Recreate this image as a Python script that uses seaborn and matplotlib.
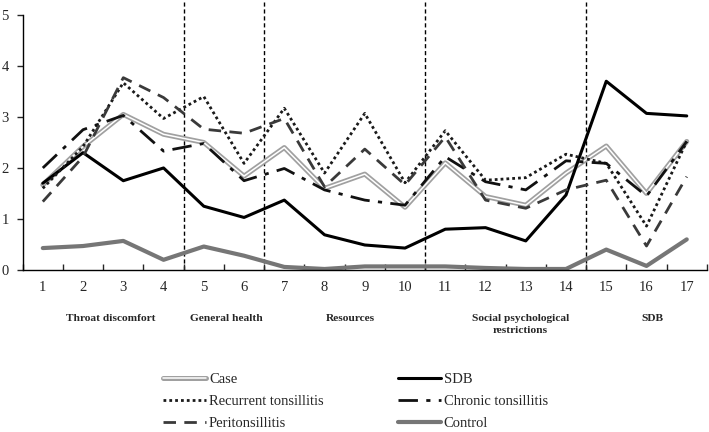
import numpy as np
import pandas as pd
import matplotlib
matplotlib.use("Agg")
import matplotlib.pyplot as plt
import matplotlib.patheffects as pe
import seaborn as sns

# items of the questionnaire
items = list(range(1, 18))

case = [1.67, 2.42, 3.05, 2.66, 2.50, 1.84, 2.40, 1.60, 1.88, 1.23, 2.10, 1.44, 1.27, 1.90, 2.43, 1.50, 2.52]
sdb = [1.70, 2.30, 1.75, 2.00, 1.25, 1.03, 1.37, 0.69, 0.49, 0.43, 0.80, 0.83, 0.57, 1.47, 3.70, 3.07, 3.02]
recurrent = [1.60, 2.42, 3.67, 2.97, 3.40, 2.09, 3.17, 1.90, 3.07, 1.71, 2.73, 1.76, 1.81, 2.27, 2.09, 0.86, 2.52]
chronic = [2.00, 2.75, 3.03, 2.33, 2.48, 1.75, 1.99, 1.57, 1.37, 1.27, 2.22, 1.73, 1.57, 2.14, 2.09, 1.45, 2.52]
peri = [1.34, 2.22, 3.77, 3.38, 2.76, 2.68, 2.97, 1.63, 2.37, 1.67, 2.61, 1.37, 1.21, 1.57, 1.76, 0.47, 1.83]
control = [0.43, 0.47, 0.57, 0.20, 0.46, 0.28, 0.06, 0.02, 0.07, 0.07, 0.07, 0.04, 0.02, 0.02, 0.40, 0.08, 0.60]

# domains of the questionnaire
domain_names = ["Throat discomfort", "General health", "Resources",
                "Social psychological\nrestrictions", "SDB"]
domain_centers = [2.69, 5.57, 8.64, 12.86, 16.14]
domain_breaks = [4.5, 6.5, 10.5, 14.5]

df = pd.DataFrame({"item": items, "Case": case, "SDB": sdb,
                   "Recurrent tonsillitis": recurrent,
                   "Chronic tonsillitis": chronic,
                   "Peritonsillitis": peri, "Control": control})

sns.set_style("ticks")
plt.rcParams["font.family"] = ["Liberation Serif", "DejaVu Serif"]

fig = plt.figure(figsize=(7.09, 4.32), dpi=100)
ax = fig.add_axes([0.032, 0.375, 0.965, 0.62])

styles = {
    "Case": dict(color="#a0a0a0", linewidth=3.6,
                 path_effects=[pe.Normal(), pe.Stroke(linewidth=1.1, foreground="white")]),
    "SDB": dict(color="black", linewidth=2.2),
    "Recurrent tonsillitis": dict(color="#1a1a1a", linewidth=2.0, linestyle=(0, (1, 1.1))),
    "Chronic tonsillitis": dict(color="#111111", linewidth=2.0, linestyle=(0, (7, 3, 1.5, 3))),
    "Peritonsillitis": dict(color="#3a3a3a", linewidth=2.0, linestyle=(0, (4.5, 3))),
    "Control": dict(color="#767676", linewidth=3.0),
}

lines = {}
for name, kw in styles.items():
    sns.lineplot(data=df, x="item", y=name, ax=ax, label=name, **kw)
    lines[name] = ax.get_lines()[-1]

for b in domain_breaks:
    ax.axvline(b, color="black", linewidth=1.0, linestyle=(0, (3, 2)), zorder=0)

ax.set_xlim(0.5, 17.5)
ax.set_ylim(0, 5.25)
ax.spines["top"].set_visible(False)
ax.spines["right"].set_visible(False)
ax.spines["left"].set_bounds(0, 5)
ax.set_xlabel("")
ax.set_ylabel("")

ax.set_xticks(items)
ax.set_xticklabels([str(i) for i in items], fontsize=10.5)
ax.set_xticks(np.arange(0.5, 18, 1), minor=True)
ax.tick_params(axis="x", which="major", length=0, pad=8)
ax.tick_params(axis="x", which="minor", direction="in", length=4, width=1)
ax.set_yticks(range(0, 6))
ax.set_yticklabels([str(i) for i in range(0, 6)], fontsize=10.5)
ax.tick_params(axis="y", direction="out", length=4, width=1, pad=6)
for s in ax.spines.values():
    s.set_linewidth(1.0)
    s.set_color("black")

for name, cx in zip(domain_names, domain_centers):
    ax.text(cx, -0.165, name, transform=ax.get_xaxis_transform(),
            ha="center", va="top", fontsize=8.2, fontweight="bold", linespacing=1.35)

order = ["Case", "Recurrent tonsillitis", "Peritonsillitis",
         "SDB", "Chronic tonsillitis", "Control"]
ax.get_legend().remove()
fig.legend([lines[n] for n in order], order, ncol=2, frameon=False,
           loc="upper left", bbox_to_anchor=(163 / 709, 1 - 373 / 432),
           bbox_transform=fig.transFigure, borderpad=0, borderaxespad=0,
           handlelength=2.95, handletextpad=0.2, labelspacing=0.6,
           columnspacing=5.1, prop={"size": 10.5})

fig.savefig("out.png", dpi=100)
